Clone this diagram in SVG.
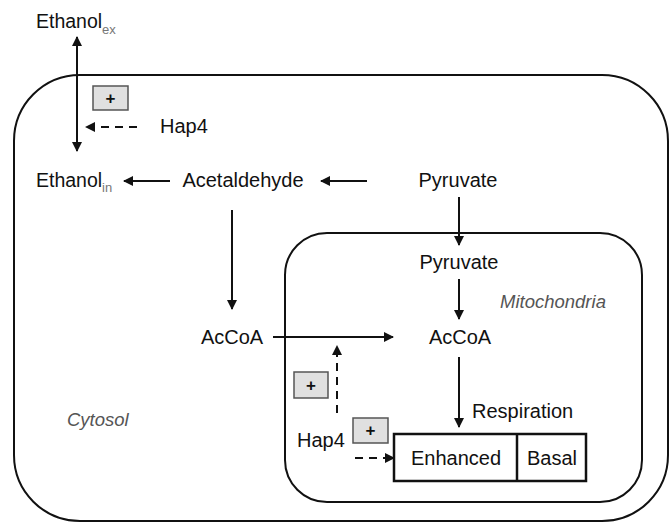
<svg xmlns="http://www.w3.org/2000/svg" width="670" height="523" viewBox="0 0 670 523">
<style>
.t{font-family:"Liberation Sans",Arial,sans-serif;font-size:20px;fill:#111}
.e{font-size:19.5px}
.sub{font-family:"Liberation Sans",Arial,sans-serif;font-size:13px;fill:#777}
.it{font-family:"Liberation Sans",Arial,sans-serif;font-size:18.5px;font-style:italic;fill:#555}
.pl{font-family:"Liberation Sans",Arial,sans-serif;font-size:17px;font-weight:bold;fill:#111}
.ln{stroke:#111;stroke-width:2;fill:none}
.dl{stroke:#111;stroke-width:2;fill:none;stroke-dasharray:8,6}
.box{fill:#e0e0e0;stroke:#555;stroke-width:1.5}
.comp{fill:none;stroke:#111;stroke-width:2}
</style>
<defs>
<marker id="ah" viewBox="0 0 10 10" refX="9" refY="5" markerWidth="10" markerHeight="10" markerUnits="userSpaceOnUse" orient="auto-start-reverse">
<path d="M0,0 L10,5 L0,10 z" fill="#111"/>
</marker>
</defs>
<rect width="670" height="523" fill="#fff"/>
<g id="cytosol">
<rect class="comp" x="14" y="75" width="654" height="446" rx="66" ry="66"/>
<text class="it" x="67" y="426">Cytosol</text>
</g>
<g id="mitochondria">
<rect class="comp" x="285" y="233" width="357" height="269" rx="42" ry="42"/>
<text class="it" x="500" y="308">Mitochondria</text>
</g>
<g id="connectors">
<line class="ln" x1="77" y1="37" x2="77" y2="151" marker-start="url(#ah)" marker-end="url(#ah)"/>
<line class="dl" x1="137" y1="127" x2="86" y2="127" marker-end="url(#ah)"/>
<line class="ln" x1="170" y1="181" x2="124" y2="181" marker-end="url(#ah)"/>
<line class="ln" x1="367" y1="181" x2="321" y2="181" marker-end="url(#ah)"/>
<line class="ln" x1="459" y1="197" x2="459" y2="245" marker-end="url(#ah)"/>
<line class="ln" x1="232" y1="210" x2="232" y2="309" marker-end="url(#ah)"/>
<line class="ln" x1="459" y1="279" x2="459" y2="319" marker-end="url(#ah)"/>
<line class="ln" x1="273" y1="337" x2="393" y2="337" marker-end="url(#ah)"/>
<line class="ln" x1="459" y1="357" x2="459" y2="427" marker-end="url(#ah)"/>
<line class="dl" x1="337" y1="413" x2="337" y2="346" marker-end="url(#ah)"/>
<line class="dl" x1="355" y1="458" x2="394" y2="458" marker-end="url(#ah)"/>
</g>
<g id="ethanol-ex"><text class="t e" x="36" y="28">Ethanol</text><text class="sub" x="102" y="34">ex</text></g>
<g id="ethanol-in"><text class="t e" x="36" y="187">Ethanol</text><text class="sub" x="102" y="192">in</text></g>
<g id="plus1"><rect class="box" x="93" y="86" width="35" height="24"/><text class="pl" x="110.5" y="104" text-anchor="middle">+</text></g>
<g id="hap4-top"><text class="t" x="160" y="133">Hap4</text></g>
<g id="acetaldehyde"><text class="t" x="243" y="187" text-anchor="middle">Acetaldehyde</text></g>
<g id="pyruvate-cyt"><text class="t" x="458" y="187" text-anchor="middle">Pyruvate</text></g>
<g id="pyruvate-mit"><text class="t" x="459" y="269" text-anchor="middle">Pyruvate</text></g>
<g id="accoa-cyt"><text class="t" x="232" y="344" text-anchor="middle">AcCoA</text></g>
<g id="accoa-mit"><text class="t" x="460" y="344" text-anchor="middle">AcCoA</text></g>
<g id="plus2"><rect class="box" x="294" y="372" width="34" height="26"/><text class="pl" x="311" y="391" text-anchor="middle">+</text></g>
<g id="plus3"><rect class="box" x="353" y="418" width="35" height="25"/><text class="pl" x="370.5" y="436" text-anchor="middle">+</text></g>
<g id="hap4-bottom"><text class="t" x="297" y="447">Hap4</text></g>
<g id="respiration">
<text class="t" x="472" y="418">Respiration</text>
<rect x="394" y="434" width="192" height="47" fill="none" stroke="#111" stroke-width="2.5"/>
<line x1="517" y1="434" x2="517" y2="481" stroke="#111" stroke-width="2.5"/>
<text class="t" x="456" y="465" text-anchor="middle">Enhanced</text>
<text class="t" x="552" y="465" text-anchor="middle">Basal</text>
</g>
</svg>
